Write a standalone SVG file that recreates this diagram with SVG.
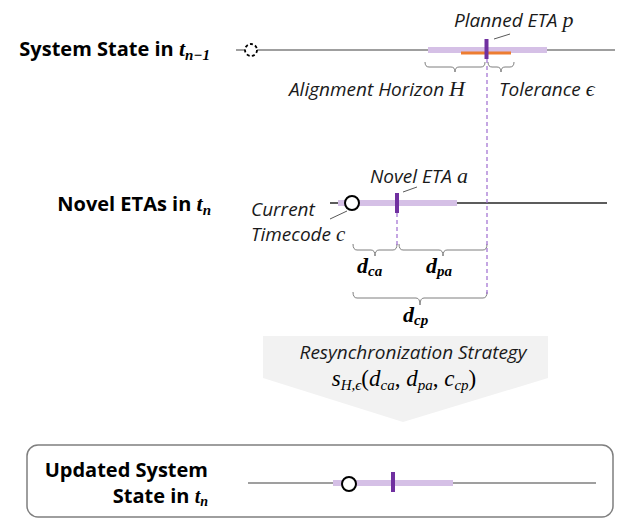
<svg xmlns="http://www.w3.org/2000/svg" width="617" height="519" viewBox="0 0 617 519">
<style>
.lbl{font-family:"Open Sans",sans-serif;font-weight:bold;font-size:20px;fill:#000}
.it{font-family:"Open Sans",sans-serif;font-style:italic;font-size:19px;fill:#1a1a1a}
.m{font-family:"Liberation Serif",serif;font-style:italic}
.mb{font-family:"Liberation Serif",serif;font-style:italic;font-weight:bold}
.axis{stroke:#7f7f7f;stroke-width:1.5}
.bar{stroke:#d5c0e6;stroke-width:6}
.tick{stroke:#7030a0;stroke-width:4}
.brace{fill:none;stroke:#7f7f7f;stroke-width:1}
.lead{stroke:#595959;stroke-width:1}
.vdash{stroke:#9e6cd0;stroke-width:1.2;stroke-dasharray:4 3}
</style>
<g id="row1">
  <text class="lbl" x="210" y="56" text-anchor="end">System State in <tspan class="mb" font-size="22">t</tspan><tspan class="mb" font-size="15" dy="4">n−1</tspan></text>
  <line class="axis" x1="236" y1="50" x2="615" y2="50"/>
  <circle cx="251" cy="50" r="6" fill="#fff" stroke="#000" stroke-width="1.8" stroke-dasharray="3 2.3"/>
  <line class="bar" x1="428" y1="50" x2="547" y2="50"/>
  <line stroke="#ed7d31" stroke-width="3" x1="461" y1="53" x2="511" y2="53"/>
  <line class="tick" x1="486.5" y1="39" x2="486.5" y2="59"/>
  <text class="it" x="454" y="27" font-size="20">Planned ETA <tspan class="m" font-size="22">p</tspan></text>
  <line class="lead" x1="494" y1="39" x2="510" y2="34"/>
  <path class="brace" d="M425,62 Q425,67 429,67 L451,67 Q455,67 455,72 Q455,67 459,67 L481,67 Q485,67 485,62"/>
  <path class="brace" d="M488,62 Q488,67 492,67 L497,67 Q501,67 501,72 Q501,67 505,67 L510,67 Q514,67 514,62"/>
  <text class="it" x="465" y="96" text-anchor="end">Alignment Horizon <tspan class="m" font-size="22">H</tspan></text>
  <text class="it" x="499" y="96">Tolerance <tspan class="m" font-size="22">ϵ</tspan></text>
</g>
<g id="row2">
  <text class="lbl" x="211" y="211" text-anchor="end">Novel ETAs in <tspan class="mb" font-size="22">t</tspan><tspan class="mb" font-size="15" dy="4">n</tspan></text>
  <line x1="330" y1="203" x2="607" y2="203" stroke="#262626" stroke-width="1.3"/>
  <line class="bar" x1="338" y1="203" x2="457" y2="203"/>
  <circle cx="352" cy="203" r="7" fill="#fff" stroke="#000" stroke-width="2"/>
  <line class="tick" x1="397" y1="193" x2="397" y2="213"/>
  <text class="it" x="370" y="183">Novel ETA <tspan class="m" font-size="22">a</tspan></text>
  <text class="it" x="251" y="216" font-size="18.5">Current</text>
  <text class="it" x="251" y="241" font-size="18.5">Timecode <tspan class="m" font-size="21">c</tspan></text>
  <path class="brace" d="M353,244 Q353,250 357,250 L371,250 Q375,250 375,256 Q375,250 379,250 L393,250 Q397,250 397,244"/>
  <path class="brace" d="M399,244 Q399,250 403,250 L439,250 Q443,250 443,256 Q443,250 447,250 L483,250 Q487,250 487,244"/>
  <path class="brace" d="M353,292 Q353,298 357,298 L416,298 Q420,298 420,305 Q420,298 424,298 L483,298 Q487,298 487,292"/>
  <text class="mb" font-size="22" x="357" y="273">d<tspan font-size="15" dy="3">ca</tspan></text>
  <text class="mb" font-size="22" x="426" y="273">d<tspan font-size="15" dy="3">pa</tspan></text>
  <text class="mb" font-size="22" x="403" y="322">d<tspan font-size="15" dy="3">cp</tspan></text>
</g>
<g id="strategy">
  <polygon points="263,336 548,336 548,378 403,422 263,378" fill="#f2f2f2"/>
  <text class="it" x="413" y="359" text-anchor="middle" font-size="18.5">Resynchronization Strategy</text>
  <text class="m" font-size="23" x="404" y="386" text-anchor="middle">s<tspan font-size="15" dy="4">H,ϵ</tspan><tspan dy="-4" font-style="normal">(</tspan>d<tspan font-size="15" dy="4">ca</tspan><tspan dy="-4" font-style="normal">, </tspan>d<tspan font-size="15" dy="4">pa</tspan><tspan dy="-4" font-style="normal">, </tspan>c<tspan font-size="15" dy="4">cp</tspan><tspan dy="-4" font-style="normal">)</tspan></text>
</g>
<g id="row3">
  <rect x="27" y="445" width="586" height="72" rx="11" fill="#fff" stroke="#7f7f7f" stroke-width="1.5"/>
  <text class="lbl" x="208" y="477" text-anchor="end" font-size="19">Updated System</text>
  <text class="lbl" x="208" y="503" text-anchor="end" font-size="19">State in <tspan class="mb" font-size="20">t</tspan><tspan class="mb" font-size="14" dy="3">n</tspan></text>
  <line class="axis" x1="248" y1="483" x2="596" y2="483"/>
  <line class="bar" x1="333" y1="483" x2="453" y2="483"/>
  <circle cx="349" cy="484" r="7" fill="#fff" stroke="#000" stroke-width="2"/>
  <line class="tick" x1="393" y1="472" x2="393" y2="492"/>
</g>
<g id="connectors">
  <line class="vdash" x1="487" y1="59" x2="487" y2="297"/>
  <line class="vdash" x1="397" y1="213" x2="397" y2="248"/>
  <line class="lead" x1="403" y1="192" x2="417" y2="187"/>
  <line class="lead" x1="330" y1="219" x2="347" y2="211"/>
</g>
</svg>
